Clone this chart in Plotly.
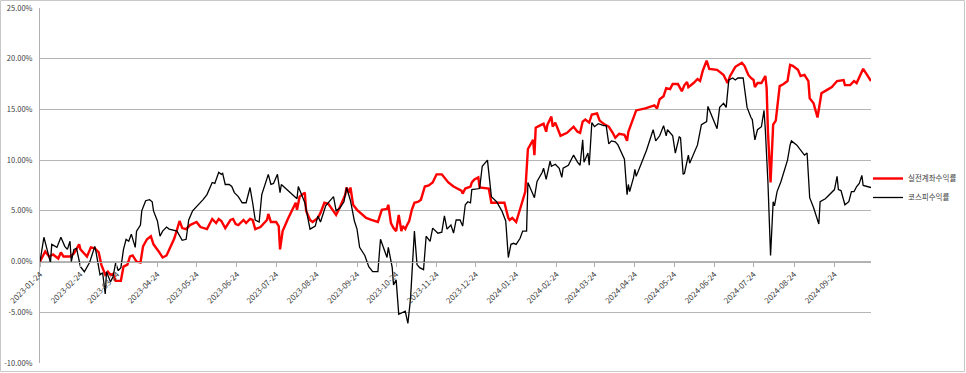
import plotly.graph_objects as go

# ---- data (percent returns) ----
red_name = "실전계좌수익률"
black_name = "코스피수익률"

red_dates = [
    "2023-01-24","2023-01-28","2023-01-31","2023-02-03","2023-02-07","2023-02-09","2023-02-11","2023-02-16",
    "2023-02-19","2023-02-21","2023-02-23","2023-02-24","2023-02-26","2023-03-01","2023-03-04","2023-03-07",
    "2023-03-10","2023-03-12","2023-03-15","2023-03-17","2023-03-19","2023-03-21","2023-03-23","2023-03-27",
    "2023-03-29","2023-04-01","2023-04-03","2023-04-05","2023-04-08","2023-04-11","2023-04-13","2023-04-16",
    "2023-04-19","2023-04-21","2023-04-25","2023-04-28","2023-05-01","2023-05-04","2023-05-07","2023-05-11",
    "2023-05-13","2023-05-16","2023-05-19","2023-05-24","2023-05-27","2023-06-01","2023-06-05","2023-06-08",
    "2023-06-10","2023-06-12","2023-06-15","2023-06-19","2023-06-21","2023-06-23","2023-06-25","2023-06-29",
    "2023-07-01","2023-07-04","2023-07-06","2023-07-08","2023-07-12","2023-07-17","2023-07-18","2023-07-20",
    "2023-07-24","2023-07-26","2023-07-27","2023-07-29","2023-08-02","2023-08-08","2023-08-09","2023-08-11",
    "2023-08-15","2023-08-16","2023-08-19","2023-08-21","2023-08-25","2023-08-27","2023-08-30","2023-09-02",
    "2023-09-05","2023-09-08","2023-09-10","2023-09-15","2023-09-16","2023-09-18","2023-09-19","2023-09-21",
    "2023-09-24","2023-09-28","2023-10-01","2023-10-05","2023-10-10","2023-10-13","2023-10-17","2023-10-18",
    "2023-10-20","2023-10-22","2023-10-24","2023-10-26","2023-10-28","2023-10-29","2023-10-31","2023-11-01",
    "2023-11-03","2023-11-05","2023-11-07","2023-11-10","2023-11-12","2023-11-15","2023-11-18","2023-11-21",
    "2023-11-24","2023-11-28","2023-11-30","2023-12-03","2023-12-07","2023-12-11","2023-12-13","2023-12-14",
    "2023-12-16","2023-12-20","2023-12-21","2023-12-23","2023-12-26","2023-12-27","2024-01-03","2024-01-05",
    "2024-01-15","2024-01-18","2024-01-19","2024-01-21","2024-01-24","2024-01-28","2024-01-31","2024-02-02",
    "2024-02-04","2024-02-06","2024-02-07","2024-02-08","2024-02-11","2024-02-14","2024-02-16","2024-02-17",
    "2024-02-20","2024-02-21","2024-02-23","2024-02-27","2024-03-03","2024-03-08","2024-03-11","2024-03-13",
    "2024-03-15","2024-03-17","2024-03-20","2024-03-22","2024-03-26","2024-03-28","2024-04-01","2024-04-04",
    "2024-04-07","2024-04-09","2024-04-12","2024-04-16","2024-04-18","2024-04-19","2024-04-21","2024-04-25",
    "2024-05-02","2024-05-09","2024-05-11","2024-05-13","2024-05-16","2024-05-18","2024-05-21","2024-05-23",
    "2024-05-27","2024-05-28","2024-05-30","2024-06-01","2024-06-03","2024-06-04","2024-06-08","2024-06-11",
    "2024-06-13","2024-06-15","2024-06-18","2024-06-20","2024-06-26","2024-06-29","2024-07-01","2024-07-04",
    "2024-07-06","2024-07-10","2024-07-15","2024-07-17","2024-07-20","2024-07-22","2024-07-24","2024-07-25",
    "2024-07-27","2024-07-30","2024-08-02","2024-08-03","2024-08-04","2024-08-06","2024-08-07","2024-08-08",
    "2024-08-10","2024-08-12","2024-08-13","2024-08-16","2024-08-19","2024-08-21","2024-08-23","2024-08-27",
    "2024-08-29","2024-09-01","2024-09-04","2024-09-05","2024-09-08","2024-09-11","2024-09-13","2024-09-14",
    "2024-09-18","2024-09-22","2024-09-24","2024-09-26","2024-10-01","2024-10-02","2024-10-06","2024-10-09",
    "2024-10-11","2024-10-15","2024-10-16","2024-10-18","2024-10-22",
]
red_values = [
    0.0, 1.0, 0.5, 0.7, 0.3, 0.9, 0.5, 0.5,
    0.8, 1.2, 1.7, 1.2, 0.9, 0.5, 1.4, 1.3,
    0.9, -0.3, -1.3, -1.0, -1.3, -1.2, -1.9, -1.9,
    -0.5, -0.3, 0.5, 0.6, 0.0, -0.1, 1.5, 2.2,
    2.5, 1.7, 1.0, 0.4, 0.6, 1.4, 2.3, 4.0,
    3.3, 3.2, 3.6, 3.9, 3.4, 3.2, 4.2, 3.8,
    4.2, 4.0, 3.3, 4.1, 4.2, 3.7, 3.6, 4.1,
    3.8, 4.2, 4.1, 3.2, 3.4, 4.1, 4.7, 3.9,
    3.9, 3.5, 1.2, 3.0, 4.2, 5.8, 5.1, 6.4,
    6.8, 5.0, 4.1, 3.9, 4.3, 4.8, 5.8, 5.7,
    5.2, 4.6, 5.1, 6.6, 7.3, 6.8, 7.3, 5.6,
    5.1, 4.6, 4.3, 4.1, 3.9, 5.1, 5.2, 5.6,
    3.8, 3.3, 3.0, 4.6, 3.0, 3.5, 3.2, 3.5,
    4.0, 5.1, 5.8, 5.9, 6.1, 7.4, 7.5, 7.8,
    8.6, 8.6, 8.3, 7.8, 7.4, 7.1, 7.0, 6.7,
    7.2, 7.4, 7.8, 8.1, 8.3, 7.3, 7.2, 5.8,
    5.8, 4.3, 4.1, 4.3, 3.9, 5.6, 6.9, 11.1,
    11.6, 12.0, 10.5, 13.2, 13.4, 13.6, 12.8, 13.5,
    14.3, 13.3, 13.7, 12.4, 12.7, 13.3, 12.8, 12.7,
    13.8, 14.0, 13.7, 14.5, 14.6, 13.9, 13.5, 13.3,
    12.7, 12.2, 12.6, 12.5, 11.9, 12.8, 13.5, 14.9,
    15.1, 15.4, 15.1, 16.0, 16.3, 17.1, 17.0, 17.5,
    17.5, 17.3, 16.8, 17.4, 17.7, 17.2, 17.6, 18.0,
    17.8, 18.8, 19.8, 19.0, 18.9, 18.6, 18.4, 17.6,
    18.3, 19.2, 19.6, 19.3, 18.4, 18.1, 17.9, 17.2,
    17.6, 17.6, 18.3, 17.1, 12.8, 7.8, 10.5, 13.5,
    13.9, 16.1, 17.3, 17.5, 17.8, 19.4, 19.3, 18.9,
    18.3, 18.4, 17.8, 16.1, 15.6, 14.2, 16.1, 16.6,
    16.9, 17.2, 17.5, 17.8, 17.9, 17.4, 17.4, 17.8,
    17.6, 18.8, 19.0, 18.6, 17.8,
]

black_dates = [
    "2023-01-24","2023-01-27","2023-01-30","2023-02-01","2023-02-02","2023-02-06","2023-02-09","2023-02-12",
    "2023-02-14","2023-02-16","2023-02-17","2023-02-19","2023-02-21","2023-02-24","2023-02-27","2023-03-03",
    "2023-03-07","2023-03-08","2023-03-11","2023-03-13","2023-03-15","2023-03-16","2023-03-19","2023-03-21",
    "2023-03-23","2023-03-25","2023-03-27","2023-03-29","2023-03-31","2023-04-02","2023-04-04","2023-04-07",
    "2023-04-08","2023-04-11","2023-04-12","2023-04-15","2023-04-18","2023-04-20","2023-04-21","2023-04-24",
    "2023-04-26","2023-04-28","2023-05-01","2023-05-03","2023-05-09","2023-05-13","2023-05-16","2023-05-18",
    "2023-05-21","2023-05-25","2023-05-29","2023-06-01","2023-06-03","2023-06-05","2023-06-07","2023-06-10",
    "2023-06-12","2023-06-13","2023-06-15","2023-06-18","2023-06-20","2023-06-22","2023-06-25","2023-06-28",
    "2023-07-01","2023-07-04","2023-07-06","2023-07-08","2023-07-11","2023-07-13","2023-07-18","2023-07-20",
    "2023-07-22","2023-07-25","2023-07-27","2023-07-28","2023-08-09","2023-08-10","2023-08-15","2023-08-19",
    "2023-08-23","2023-08-25","2023-08-27","2023-08-31","2023-09-04","2023-09-06","2023-09-08","2023-09-11",
    "2023-09-14","2023-09-16","2023-09-19","2023-09-22","2023-09-24","2023-09-26","2023-09-30","2023-10-03",
    "2023-10-06","2023-10-10","2023-10-12","2023-10-15","2023-10-17","2023-10-18","2023-10-21","2023-10-22",
    "2023-10-24","2023-10-26","2023-10-29","2023-10-31","2023-11-02","2023-11-04","2023-11-07","2023-11-09",
    "2023-11-11","2023-11-14","2023-11-16","2023-11-19","2023-11-21","2023-11-25","2023-11-28","2023-11-30",
    "2023-12-02","2023-12-05","2023-12-07","2023-12-09","2023-12-12","2023-12-14","2023-12-16","2023-12-18",
    "2023-12-20","2023-12-21","2023-12-27","2023-12-29","2024-01-02","2024-01-05","2024-01-09","2024-01-13",
    "2024-01-16","2024-01-18","2024-01-20","2024-01-22","2024-01-24","2024-01-27","2024-01-29","2024-02-01",
    "2024-02-02","2024-02-05","2024-02-07","2024-02-09","2024-02-13","2024-02-14","2024-02-16","2024-02-19",
    "2024-02-20","2024-02-23","2024-02-26","2024-02-28","2024-02-29","2024-03-04","2024-03-08","2024-03-11",
    "2024-03-13","2024-03-15","2024-03-16","2024-03-19","2024-03-20","2024-03-22","2024-03-24","2024-03-27",
    "2024-03-31","2024-04-02","2024-04-04","2024-04-06","2024-04-09","2024-04-11","2024-04-13","2024-04-16",
    "2024-04-18","2024-04-19","2024-04-20","2024-04-23","2024-04-24","2024-04-25","2024-04-29","2024-05-03",
    "2024-05-08","2024-05-10","2024-05-13","2024-05-16","2024-05-18","2024-05-19","2024-05-23","2024-05-25",
    "2024-05-28","2024-05-29","2024-05-31","2024-06-01","2024-06-04","2024-06-05","2024-06-11","2024-06-14",
    "2024-06-18","2024-06-19","2024-06-26","2024-06-28","2024-07-01","2024-07-03","2024-07-05","2024-07-08",
    "2024-07-10","2024-07-12","2024-07-16","2024-07-19","2024-07-22","2024-07-23","2024-07-25","2024-07-27",
    "2024-07-30","2024-08-01","2024-08-02","2024-08-04","2024-08-06","2024-08-08","2024-08-09","2024-08-11",
    "2024-08-14","2024-08-19","2024-08-21","2024-08-22","2024-08-26","2024-08-28","2024-08-30","2024-09-01",
    "2024-09-03","2024-09-05","2024-09-08","2024-09-12","2024-09-13","2024-09-17","2024-09-24","2024-09-26",
    "2024-09-27","2024-09-29","2024-10-02","2024-10-05","2024-10-07","2024-10-09","2024-10-11","2024-10-13",
    "2024-10-15","2024-10-16","2024-10-22",
]
black_values = [
    0.0, 2.4, 0.9, -0.1, 1.7, 1.4, 2.4, 1.5,
    1.2, 2.0, 0.0, 1.2, 1.3, -0.5, -1.0, -0.1,
    1.5, 0.9, -1.3, -1.1, -3.2, -1.0, -2.0, -1.5,
    -0.1, -0.9, -0.6, 1.2, 2.2, 2.0, 2.7, 1.4,
    3.0, 3.6, 5.0, 6.0, 6.1, 5.9, 5.0, 4.0,
    2.5, 3.0, 3.4, 3.2, 3.0, 2.1, 2.2, 4.1,
    5.0, 5.5, 6.1, 6.6, 7.3, 7.8, 7.7, 8.8,
    8.6, 8.7, 7.6, 7.6, 7.4, 6.8, 6.4, 5.8,
    5.8, 7.3, 5.8, 4.1, 3.9, 6.6, 8.6, 7.6,
    7.7, 8.6, 6.8, 7.6, 6.2, 7.4, 5.8, 3.2,
    3.5, 4.5, 3.9, 5.5, 6.1, 6.4, 5.0, 5.3,
    5.9, 7.3, 6.0, 4.0, 3.2, 1.4, 0.6, -0.5,
    -1.0, -1.0, 2.2, 1.2, 0.4, 1.4, -0.6, -2.3,
    -1.8, -5.2, -5.0, -4.9, -6.1, -3.7, 3.0, -0.3,
    -0.6, -0.8, 2.5, 2.0, 3.3, 2.8, 2.9, 4.5,
    3.2, 3.6, 2.8, 4.1, 4.1, 3.5, 5.6, 5.9,
    5.8, 7.1, 7.2, 9.4, 10.0, 6.4, 5.9, 5.0,
    4.0, 0.4, 1.7, 1.8, 1.7, 2.3, 3.0, 3.0,
    7.8, 6.9, 6.3, 7.9, 8.8, 9.2, 8.1, 9.9,
    9.4, 9.6, 9.2, 8.3, 9.2, 9.5, 10.5, 9.8,
    9.5, 12.0, 9.8, 10.7, 9.5, 13.7, 13.3, 13.6,
    13.4, 13.4, 11.6, 11.9, 11.8, 11.5, 11.0, 10.1,
    6.6, 7.6, 6.9, 8.3, 9.1, 8.4, 9.7, 11.0,
    13.0, 11.9, 12.4, 13.4, 12.4, 13.0, 12.4, 10.7,
    12.3, 12.2, 8.6, 8.7, 10.5, 9.7, 11.5, 13.5,
    13.8, 15.3, 13.1, 15.2, 15.6, 15.2, 17.9, 18.1,
    17.9, 18.1, 18.1, 15.2, 14.2, 14.0, 12.0, 13.0,
    13.3, 14.9, 13.0, 7.8, 0.6, 5.9, 5.5, 6.9,
    7.9, 10.0, 11.5, 11.9, 11.5, 11.2, 10.9, 10.5,
    10.7, 6.3, 5.3, 3.7, 5.9, 6.2, 7.1, 8.4,
    7.1, 7.0, 5.6, 5.9, 6.9, 6.9, 7.4, 7.7,
    8.5, 7.5, 7.3,
]

tick_labels = [
    "2023-01-24","2023-02-24","2023-03-24","2023-04-24","2023-05-24","2023-06-24","2023-07-24",
    "2023-08-24","2023-09-24","2023-10-24","2023-11-24","2023-12-24","2024-01-24","2024-02-24",
    "2024-03-24","2024-04-24","2024-05-24","2024-06-24","2024-07-24","2024-08-24","2024-09-24",
]
y_ticks = [-10, -5, 0, 5, 10, 15, 20, 25]
y_tick_labels = ["-10.00%", "-5.00%", "0.00%", "5.00%", "10.00%", "15.00%", "20.00%", "25.00%"]
y_min, y_max = -10, 25

FONT = "Noto Sans CJK KR, Noto Sans, sans-serif"

fig = go.Figure()
fig.add_trace(go.Scatter(x=red_dates, y=red_values, mode="lines", name=red_name,
                         line=dict(color="#ff0000", width=2.4)))
fig.add_trace(go.Scatter(x=black_dates, y=black_values, mode="lines", name=black_name,
                         line=dict(color="#000000", width=1.3)))

W, H = 966, 373
ml, mr, mt, mb = 40, 95, 8, 10
pw, ph = W - ml - mr, H - mt - mb

fig.update_layout(
    width=W, height=H,
    margin=dict(l=ml, r=mr, t=mt, b=mb, autoexpand=False),
    paper_bgcolor="white", plot_bgcolor="white",
    font=dict(family=FONT, size=8, color="#404040"),
    showlegend=True,
    legend=dict(x=(868 - ml) / pw, y=(ph + mt - 164) / ph, xanchor="left", yanchor="top",
                font=dict(size=7.5, color="#404040"), bgcolor="rgba(0,0,0,0)",
                tracegroupgap=0, itemwidth=30),
    xaxis=dict(
        type="date",
        range=[red_dates[0], red_dates[-1]],
        tickvals=tick_labels, ticktext=tick_labels,
        tickangle=-45,
        tickfont=dict(size=8, color="#404040"),
        showgrid=False, zeroline=False,
        showline=True, linecolor="#b0b0b0", linewidth=1,
        ticks="outside", ticklen=4, tickcolor="#b0b0b0",
        anchor="free", position=(0 - y_min) / (y_max - y_min),
    ),
    yaxis=dict(
        range=[y_min, y_max],
        tickvals=y_ticks, ticktext=y_tick_labels,
        tickfont=dict(size=7.5, color="#404040"),
        showgrid=True, gridcolor="#b5b5b5", gridwidth=1,
        zeroline=False,
        showline=True, linecolor="#b0b0b0", linewidth=1,
        ticks="outside", ticklen=5, tickcolor="rgba(0,0,0,0)",
    ),
)

# chart-area border
fig.add_shape(type="rect", xref="paper", yref="paper",
              x0=(0.5 - ml) / pw, x1=(W - 1.5 - ml) / pw,
              y0=(ph + mt - (H - 1.5)) / ph, y1=(ph + mt - 0.5) / ph,
              line=dict(color="#c8c8c8", width=1), fillcolor="rgba(0,0,0,0)", layer="below")

fig.write_html("out.html",
               config={"displayModeBar": False},
               post_script="document.body.style.margin='0';document.body.style.overflow='hidden';")
